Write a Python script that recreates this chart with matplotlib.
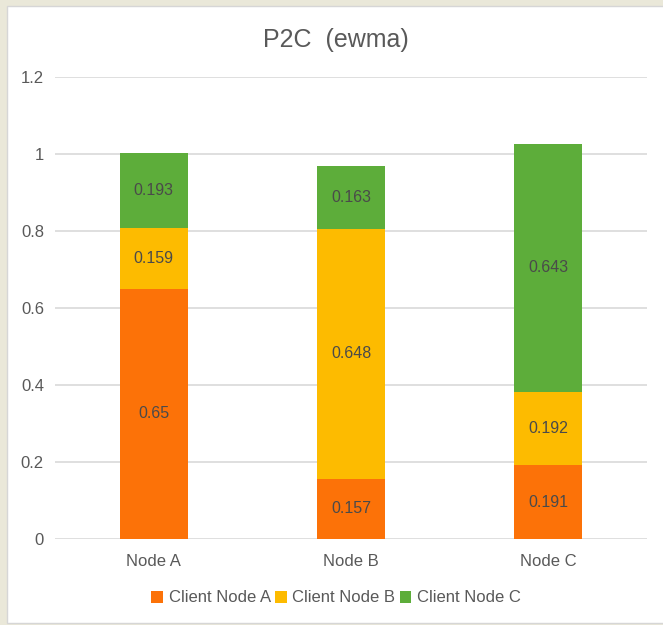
import numpy as np
import matplotlib.pyplot as plt
from matplotlib.patches import Rectangle

plt.rcParams['font.family'] = ['Liberation Sans', 'DejaVu Sans']

# dados
nodes = ['Node A', 'Node B', 'Node C']
client_a = [0.65, 0.157, 0.191]
client_b = [0.159, 0.648, 0.192]
client_c = [0.193, 0.163, 0.643]
series_names = ['Client Node A', 'Client Node B', 'Client Node C']
colors = ['#FC7208', '#FDBB00', '#5DAD3A']
yticks = [0, 0.2, 0.4, 0.6, 0.8, 1, 1.2]
ytick_labels = ['0', '0.2', '0.4', '0.6', '0.8', '1', '1.2']

fig = plt.figure(figsize=(6.63, 6.25), dpi=100)
fig.patch.set_facecolor('#EAE8D9')

# painel branco do gráfico
panel = Rectangle((7 / 663, 1 - 623 / 625), 1.0, 617 / 625,
                  transform=fig.transFigure, facecolor='white',
                  edgecolor='#D6D6D6', linewidth=1.0, zorder=-1)
fig.patches.append(panel)

ax = fig.add_axes([55 / 663, 1 - 539 / 625, 592 / 663, 462 / 625])
ax.set_facecolor('none')
ax.set_zorder(2)

x = np.arange(len(nodes))
width = 0.345
bottom = np.zeros(len(nodes))
for vals, name, col in zip([client_a, client_b, client_c], series_names, colors):
    vals = np.array(vals)
    ax.bar(x, vals, width, bottom=bottom, color=col, label=name, zorder=3)
    for xi, b, v in zip(x, bottom, vals):
        ax.text(xi, b + v / 2, f'{v:g}', ha='center', va='center',
                fontsize=11.5, color='#4A4A4A', zorder=4)
    bottom = bottom + vals

ax.set_xlim(-0.5, 2.5)
ax.set_ylim(0, 1.2)
ax.set_yticks(yticks)
ax.set_yticklabels(ytick_labels)
ax.set_xticks(x)
ax.set_xticklabels(nodes)
ax.tick_params(axis='both', length=0, labelsize=12, colors='#595959')
ax.tick_params(axis='y', pad=8)
ax.tick_params(axis='x', pad=11)
ax.grid(axis='y', color='#D9D9D9', linewidth=1.2, zorder=0)
for s in ax.spines.values():
    s.set_visible(False)

fig.text(336 / 663, 1 - 40 / 625, 'P2C  (ewma)', ha='center', va='center',
         fontsize=18, color='#595959')

fig.legend(loc='center', bbox_to_anchor=(336 / 663, 1 - 598 / 625), ncol=3,
           frameon=False, fontsize=12, handlelength=0.7, handleheight=0.7,
           handletextpad=0.35, columnspacing=0.25, labelcolor='#595959')

fig.savefig('out.png', dpi=100, facecolor=fig.get_facecolor())
